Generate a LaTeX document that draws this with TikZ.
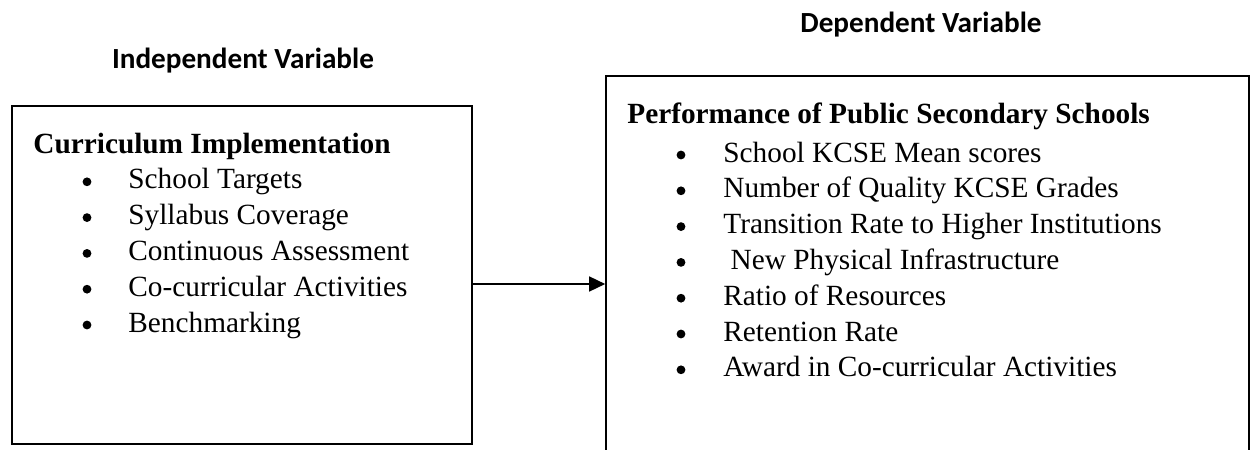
\documentclass[tikz,border=0pt]{standalone}
\usepackage{fontspec}
\setmainfont{Liberation Serif}
\newfontfamily\hdfont{Carlito}
\usetikzlibrary{arrows.meta}
\begin{document}
\begin{tikzpicture}[x=0.5pt,y=-0.5pt,
  box/.style={draw, line width=0.8pt, inner sep=0pt},
  head/.style={font=\hdfont\bfseries\fontsize{14.6}{17}\selectfont, anchor=base, inner sep=0pt},
  ttl/.style={font=\bfseries\fontsize{14.65}{18}\selectfont, anchor=base west, inner sep=0pt},
  itm/.style={font=\fontsize{14.65}{18}\selectfont, anchor=base west, inner sep=0pt},
  bul/.style={circle, fill=black, inner sep=0pt, minimum size=4.4pt},
  link/.style={line width=0.75pt, -{Triangle[length=8pt,width=7.5pt]}}]
\useasboundingbox (0,0) rectangle (1250,450);
% headings
\node[head] (hiv) at (243,68) {Independent Variable};
\node[head] (hdv) at (921,32) {Dependent Variable};
% boxes
\node[box, minimum width=230pt, minimum height=169pt] (iv) at (242,275) {};
\node[box, minimum width=321.5pt, minimum height=197pt] (dv) at (927.5,273) {};
% arrow
\coordinate (ar) at (0,284);
\draw[link] (iv.east |- ar) -- (dv.west |- ar);
% left box text
\node[ttl] (ivt) at (33,153) {Curriculum Implementation};
\foreach \t [count=\i] in {School Targets, Syllabus Coverage, Continuous Assessment, Co-curricular Activities, Benchmarking}{
  \node[bul] (ivb\i) at (87,153+35.8*\i-7) {};
  \node[itm] (ivi\i) at (128,153+35.8*\i) {\t};
}
% right box text
\node[ttl] (dvt) at (627,123) {Performance of Public Secondary Schools};
\foreach \t [count=\i] in {School KCSE Mean scores, Number of Quality KCSE Grades, Transition Rate to Higher Institutions, \ New Physical Infrastructure, Ratio of Resources, Retention Rate, Award in Co-curricular Activities}{
  \node[bul] (dvb\i) at (681,126.2+35.8*\i-7) {};
  \node[itm] (dvi\i) at (723,126.2+35.8*\i) {\t};
}
\end{tikzpicture}
\end{document}
